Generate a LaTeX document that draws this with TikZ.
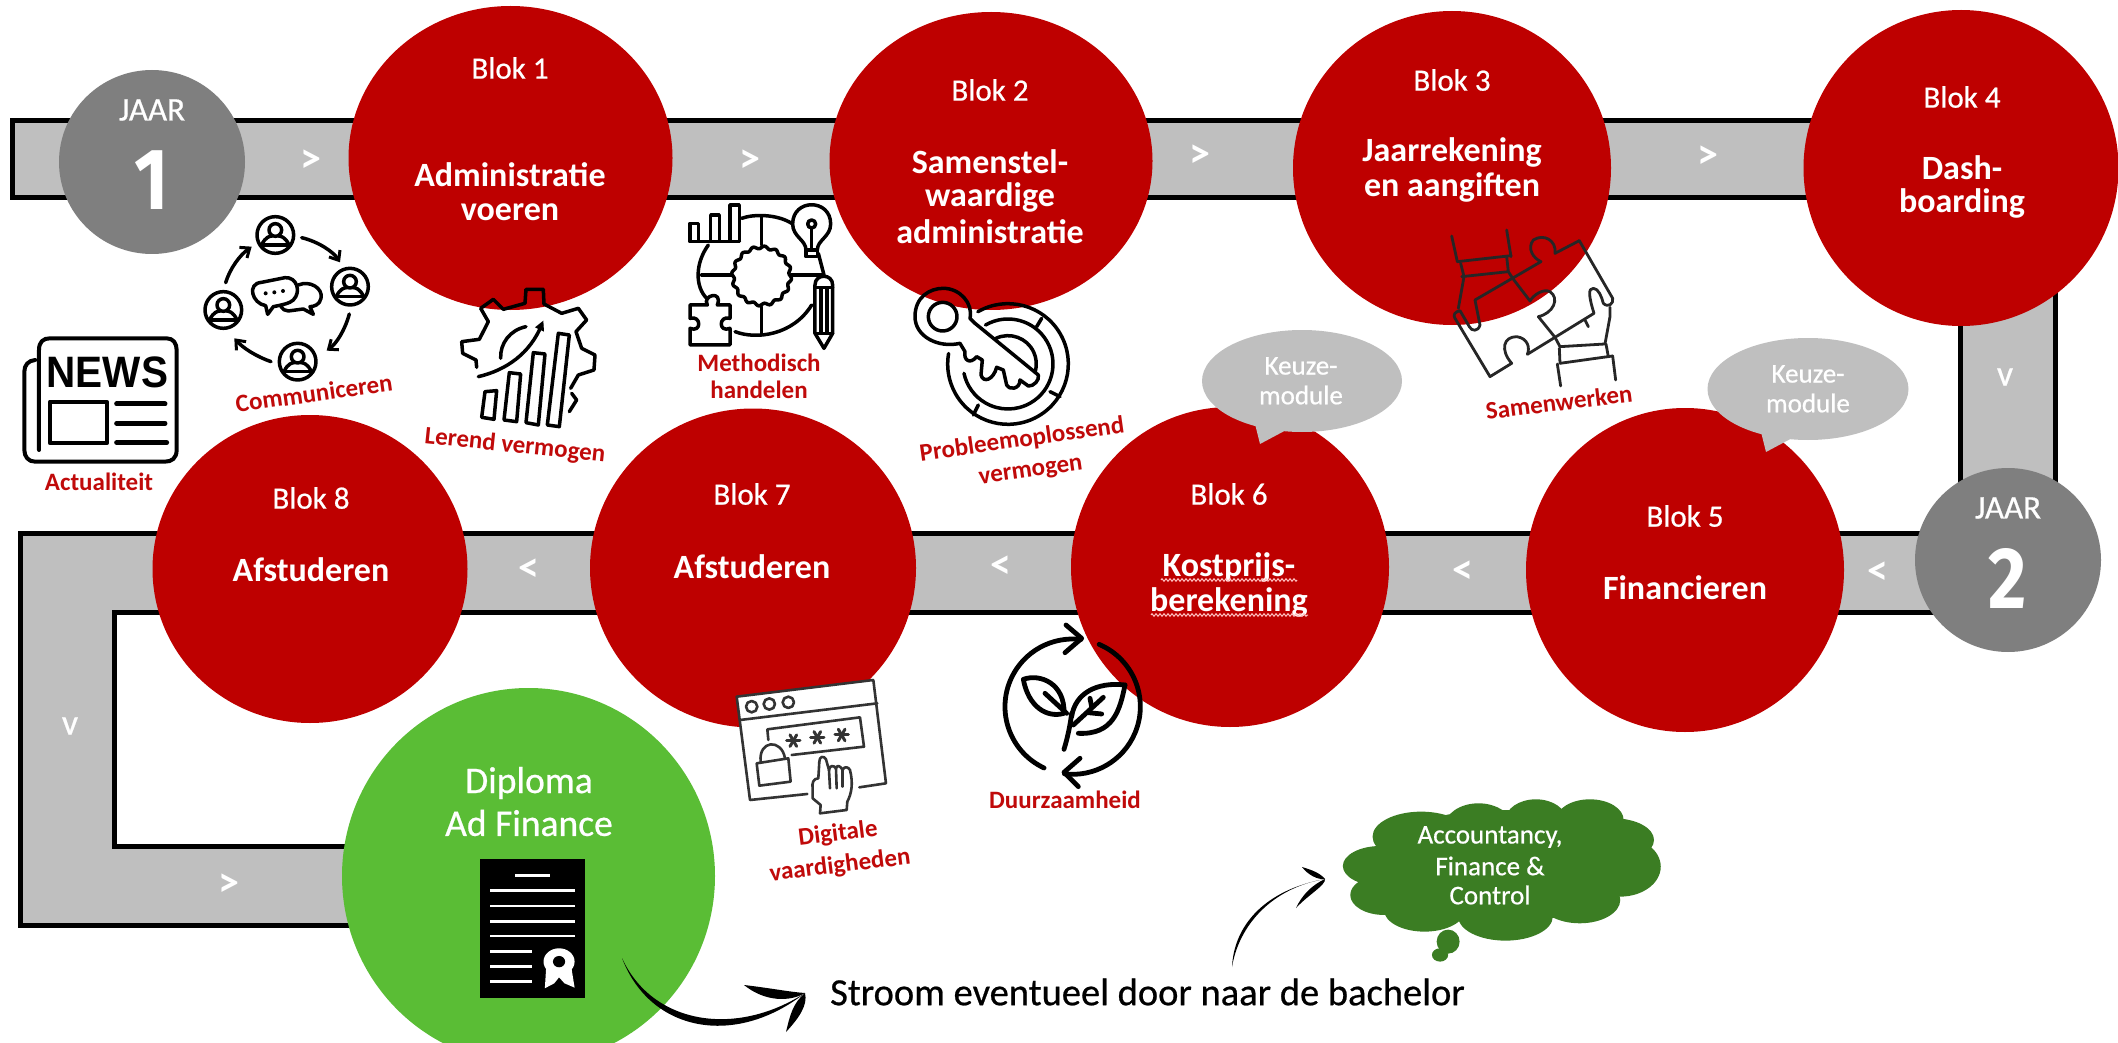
\documentclass[tikz,border=0pt]{standalone}
\usepackage{fontspec}
\setmainfont{Carlito}
\newfontfamily\medfont[FakeBold=0.6]{Carlito}
\newfontfamily\newsfont{Liberation Sans}
\newfontfamily\digitfont{Fira Sans}
\usetikzlibrary{shapes.geometric,arrows.meta,decorations.pathmorphing}
\definecolor{rood}{HTML}{BE0000}
\definecolor{labelrood}{HTML}{C00A0A}
\definecolor{band}{HTML}{BFBFBF}
\definecolor{jaar}{HTML}{7F7F7F}
\definecolor{groen}{HTML}{5ABD35}
\definecolor{donkergroen}{HTML}{3B7D23}
\tikzset{
  blokc/.style={ellipse,fill=rood,inner sep=0,minimum width=#1},
  jaarc/.style={ellipse,fill=jaar,inner sep=0,minimum width=186,minimum height=184},
  txt/.style={text=white,inner sep=0,anchor=center,align=center},
  blokt/.style={txt,font=\medfont\fontsize{31}{36}\selectfont},
  titel/.style={txt,font=\bfseries\fontsize{34}{36}\selectfont},
  pijl/.style={txt,font=\bfseries\fontsize{42}{42}\selectfont},
  rlabel/.style={text=labelrood,inner sep=0,anchor=center,align=center,font=\bfseries\fontsize{25}{26}\selectfont},
  keuze/.style={txt,text=white,font=\medfont\fontsize{27}{30}\selectfont},
  ic/.style={line width=#1,line join=round,line cap=round,draw=black},
  ic/.default=3.5,
  person/.pic={
    \draw[ic] (0,0) circle[radius=55];
    \draw[ic] (0,-15) circle[radius=19];
    \draw[ic] (-41,30) .. controls (-30,5) and (-15,3) .. (-10,3);
    \draw[ic] (41,30) .. controls (30,5) and (15,3) .. (10,3);
    \draw[ic] (-41,30) -- (41,30);
  },
  barb/.style={-{Straight Barb[length=8pt,width=13pt,line width=3pt]}},
}
\begin{document}
\begin{tikzpicture}[x=1pt,y=-1pt]
\useasboundingbox (0,0) rectangle (2118,1043);
\clip (0,0) rectangle (2118,1043);
% bands
\draw[line width=5,fill=band,line join=miter] (12,121) -- (2055,121) -- (2055,500) -- (1960,500) -- (1960,198) -- (12,198) -- cycle;
\draw[line width=5,fill=band,line join=miter] (20,533) -- (1960,533) -- (1960,612) -- (114,612) -- (114,846) -- (400,846) -- (400,925) -- (20,925) -- cycle;
% circles
\node[jaarc] (j1) at (152,162) {};
\node[jaarc] (j2) at (2008,560) {};
\node[blokc=324,minimum height=304] (c1) at (510.5,158) {};
\node[blokc=323,minimum height=298] (c2) at (991,161) {};
\node[blokc=318,minimum height=314] (c3) at (1452,168) {};
\node[blokc=315,minimum height=316] (c4) at (1961,168) {};
\node[blokc=318,minimum height=324] (c5) at (1685,570) {};
\node[blokc=318,minimum height=320] (c6) at (1230,567) {};
\node[blokc=326,minimum height=319] (c7) at (753,568) {};
\node[blokc=315,minimum height=308] (c8) at (310,569) {};
\node[ellipse,fill=groen,inner sep=0,minimum width=373,minimum height=376] (dip) at (528.5,876) {};
% band arrows
\node[pijl] (a1) at (311,161) {>};
\node[pijl] (a2) at (750,161) {>};
\node[pijl] (a3) at (1200,156) {>};
\node[pijl] (a4) at (1708,157) {>};
\node[txt,font=\medfont\fontsize{36}{36}\selectfont] (a5) at (2005,377) {v};
\node[pijl] (a6) at (1878,573) {<};
\node[pijl] (a7) at (1463,572) {<};
\node[pijl] (a8) at (1001,567) {<};
\node[pijl] (a9) at (529,570) {<};
\node[txt,font=\medfont\fontsize{36}{36}\selectfont] (a10) at (70,726) {v};
\node[pijl] (a11) at (229,885) {>};
% jaar text
\node[txt,font=\medfont\fontsize{33}{36}\selectfont] (j1t) at (152,110) {JAAR};
\node[txt,font=\digitfont\bfseries\fontsize{87}{87}\selectfont,xscale=.85] (j1n) at (152,180) {1};
\node[txt,font=\medfont\fontsize{33}{36}\selectfont] (j2t) at (2008,508) {JAAR};
\node[txt,font=\digitfont\bfseries\fontsize{87}{87}\selectfont,xscale=.85] (j2n) at (2008,578) {2};
% block text
\node[blokt] (b1) at (510,68) {Blok 1};
\node[titel] (t1a) at (510,175) {Administratie};
\node[titel] (t1b) at (510,212) {voeren};
\node[blokt] (b2) at (990,90) {Blok 2};
\node[titel] (t2a) at (990,162) {Samenstel-};
\node[titel] (t2b) at (990,197) {waardige};
\node[titel] (t2c) at (990,232) {administratie};
\node[blokt] (b3) at (1452,80) {Blok 3};
\node[titel] (t3a) at (1452,152) {Jaarrekening};
\node[titel] (t3b) at (1452,187) {en aangiften};
\node[blokt] (b4) at (1962,97) {Blok 4};
\node[titel] (t4a) at (1962,168) {Dash-};
\node[titel] (t4b) at (1962,203) {boarding};
\node[blokt] (b5) at (1685,516) {Blok 5};
\node[titel] (t5) at (1685,588) {Financieren};
\node[blokt] (b6) at (1229,494) {Blok 6};
\node[titel] (t6a) at (1229,567) {Kostprijs-};
\node[titel] (t6b) at (1229,602) {berekening};
\draw[draw=red!25!white,line width=1,decorate,decoration={zigzag,segment length=4,amplitude=1.3}] (1161,580) -- (1297,580);
\draw[draw=red!25!white,line width=1,decorate,decoration={zigzag,segment length=4,amplitude=1.3}] (1151,615) -- (1308,615);
\node[blokt] (b7) at (752,494) {Blok 7};
\node[titel] (t7) at (752,567) {Afstuderen};
\node[blokt] (b8) at (311,498) {Blok 8};
\node[titel] (t8) at (311,570) {Afstuderen};
\node[txt,font=\medfont\fontsize{37.5}{40}\selectfont] (d1) at (529,783) {Diploma};
\node[txt,font=\medfont\fontsize{37.5}{40}\selectfont] (d2) at (529,823) {Ad Finance};
% keuze bubbles
\node[ellipse,fill=band,inner sep=0,minimum width=200,minimum height=102] (k1) at (1302,381) {};
\fill[band] (1254,420) -- (1260,444) -- (1290,428) -- cycle;
\node[keuze] (k1a) at (1301,366) {Keuze-};
\node[keuze] (k1b) at (1301,395) {module};
\node[ellipse,fill=band,inner sep=0,minimum width=201,minimum height=102] (k2) at (1808,389) {};
\fill[band] (1760,428) -- (1766,452) -- (1796,436) -- cycle;
\node[keuze] (k2a) at (1808,374) {Keuze-};
\node[keuze] (k2b) at (1808,403) {module};
% diploma document
\node[fill=black,inner sep=0,minimum width=105,minimum height=139] (doc) at (532.5,928.5) {};
\begin{scope}[shift={(0,520)},x=.676pt,y=-.3333pt,line width=2.6]
  \draw[white] (762,1067) -- (813,1067);
  \foreach \yy in {1112,1158,1204,1248}{\draw[white] (725,\yy) -- (851,\yy);}
  \foreach \yy in {1294,1339,1384}{\draw[white] (725,\yy) -- (787,\yy);}
  \fill[white] (808,1340) -- (806,1405) -- (820,1390) -- (827,1372) -- (835,1390) -- (850,1403) -- (845,1340) -- cycle;
  \fill[white] (827,1325) ellipse[x radius=23,y radius=40];
  \fill[black] (827,1325) ellipse[x radius=9,y radius=17];
\end{scope}
% cloud
\begin{scope}[shift={(1060,520)},x=.675pt,y=-.3333pt]
  \fill[donkergroen] (650,1040) ellipse[x radius=190,y radius=170];
  \foreach \cx/\cy/\rx/\ry in {535/950/72/75,620/920/50/70,705/900/45/62,785/900/50/62,820/960/60/65,830/1040/60/90,770/1140/60/70,660/1190/70/72,540/1170/60/65,480/1125/50/60,475/1038/56/60}{
    \fill[donkergroen] (\cx,\cy) ellipse[x radius=\rx,y radius=\ry];
  }
  \fill[donkergroen] (575,1265) ellipse[x radius=17,y radius=36];
  \fill[donkergroen] (563,1305) ellipse[x radius=12,y radius=20];
\end{scope}
\node[keuze] (w1) at (1490,837) {Accountancy,};
\node[keuze] (w2) at (1490,866) {Finance \&};
\node[keuze] (w3) at (1490,895) {Control};
% bachelor text
\node[inner sep=0,anchor=west,font=\medfont\fontsize{38.5}{40}\selectfont] (stroom) at (830,992) {Stroom eventueel door naar de bachelor};
% curved arrows
\coordinate (s1) at (622,958);
\coordinate (t1) at (805,993);
\fill (s1) .. controls (650,1032) and (735,1048) .. (t1) .. controls (735,1038) and (652,1024) .. (s1);
\fill (744,985) .. controls (770,988) and (790,992) .. (t1) .. controls (790,1002) and (765,1002) .. (744,985);
\fill (786,1032) .. controls (790,1015) and (793,1003) .. (t1) .. controls (808,1005) and (799,1018) .. (786,1032);
\coordinate (s2) at (1232,967);
\coordinate (t2) at (1325,879);
\fill (s2) .. controls (1234,925) and (1265,890) .. (t2) .. controls (1272,888) and (1239,925) .. (s2);
\fill (1302,867) .. controls (1312,870) and (1320,873) .. (t2) .. controls (1318,880) and (1308,875) .. (1302,867);
\fill (1296,908) .. controls (1302,895) and (1312,885) .. (t2) .. controls (1326,885) and (1308,895) .. (1296,908);
% communicate icon
\begin{scope}[shift={(195,205)},x=.3333pt,y=-.3333pt]
  \pic at (241,90) {person};
  \pic at (465,245) {person};
  \pic at (308,470) {person};
  \pic at (85,315) {person};
  \draw[ic,barb] (320,98) .. controls (370,110) and (415,140) .. (435,172);
  \draw[ic,barb] (463,327) .. controls (450,375) and (425,415) .. (395,437);
  \draw[ic,barb] (228,470) .. controls (185,455) and (145,430) .. (118,400);
  \draw[ic,barb] (92,233) .. controls (105,190) and (135,150) .. (170,125);
  \draw[ic] (212,302) .. controls (170,295) and (155,235) .. (200,232) -- (270,218) .. controls (305,215) and (320,260) .. (295,285) .. controls (285,295) and (260,300) .. (235,305) -- (218,328) -- cycle;
  \draw[ic] (310,240) .. controls (345,225) and (385,250) .. (378,280) .. controls (375,300) and (355,305) .. (345,305) -- (355,328) -- (325,312) -- (280,318) .. controls (270,318) and (262,312) .. (258,305);
  \foreach \dx/\dy in {212/265,238/262,264/258}{\fill (\dx,\dy) circle[radius=6];}
\end{scope}
% gear icon
\begin{scope}[shift={(450,280)},x=.3333pt,y=-.3333pt]
  \draw[ic] (80,262) -- (78,240) -- (38,220) -- (35,185) -- (88,178) -- (115,125) -- (92,85) -- (130,58) -- (160,88) -- (225,70) -- (228,28) -- (280,28) -- (282,72) -- (335,100) -- (385,85) -- (410,120) -- (378,155) -- (395,205) -- (435,225) -- (432,270) -- (385,285) -- (362,325);
  \draw[ic] (365,340) -- (380,360) -- (358,395);
  \draw[ic] (105,335) -- (140,332) -- (132,418) -- (95,412) -- cycle;
  \draw[ic] (178,278) -- (212,282) -- (200,425) -- (162,420) -- cycle;
  \draw[ic] (250,218) -- (285,222) -- (265,435) -- (228,428) -- cycle;
  \draw[ic] (325,160) -- (358,165) -- (328,440) -- (292,435) -- cycle;
  \draw[ic] (85,290) .. controls (170,270) and (240,220) .. (275,135);
  \fill (255,142) -- (280,122) -- (282,155) -- cycle;
  \draw[ic] (152,235) .. controls (150,190) and (180,150) .. (228,140);
\end{scope}
% method icon
\begin{scope}[shift={(680,200)},x=.3333pt,y=-.3333pt]
  \draw[ic] (185,55) .. controls (220,42) and (290,42) .. (335,70);
  \draw[ic] (85,135) .. controls (45,190) and (45,260) .. (80,295);
  \draw[ic] (165,395) .. controls (230,420) and (340,405) .. (395,315);
  \draw[ic] (415,160) -- (432,225);
  \draw[ic] (245,50) -- (245,135);
  \draw[ic] (245,320) -- (245,405);
  \draw[ic] (65,225) -- (155,225);
  \draw[ic] (335,225) -- (430,225);
  \draw[ic] plot[domain=0:360,samples=145,smooth cycle] ({245+(86+4*sin(16*\x))*cos(\x)},{228+(86+4*sin(16*\x))*sin(\x)});
  \draw[ic] (30,70) rectangle (55,125);
  \draw[ic] (92,45) rectangle (118,125);
  \draw[ic] (150,15) rectangle (178,125);
  \draw[ic] (30,125) -- (178,125);
  \draw[ic] (378,150) .. controls (378,120) and (338,110) .. (338,72) .. controls (338,-5) and (452,-5) .. (452,72) .. controls (452,110) and (412,120) .. (412,150) -- cycle;
  \draw[ic] (378,150) rectangle (412,170);
  \draw[ic] (395,72) circle[radius=12];
  \draw[ic] (395,85) -- (395,150);
  \draw[ic,fill=white] (405,400) -- (405,255) .. controls (405,220) and (458,220) .. (458,255) -- (458,400) -- (432,445) -- cycle;
  \draw[ic] (405,262) -- (458,262);
  \draw[ic] (423,265) -- (423,400);
  \draw[ic] (441,265) -- (441,400);
  \draw[ic] (405,400) -- (458,400);
  \draw[ic] (30,315) -- (82,315) .. controls (65,285) and (130,270) .. (112,315) -- (150,315) -- (150,355) .. controls (115,345) and (115,400) .. (150,385) -- (150,435) -- (30,435) -- (30,385) .. controls (65,400) and (65,345) .. (30,355) -- cycle;
\end{scope}
% key icon
\begin{scope}[shift={(905,280)},x=.3333pt,y=-.3333pt]
  \draw[ic] (113,110) circle[radius=43];
  \draw[ic] (210,130) -- (400,285) .. controls (405,300) and (385,320) .. (370,318) -- (345,300) .. controls (345,330) and (310,330) .. (305,315) -- (295,270) -- (275,262) .. controls (265,300) and (235,310) .. (228,285) -- (232,240) -- (215,230) .. controls (195,255) and (175,240) .. (180,215) -- (165,190) .. controls (100,205) and (30,170) .. (30,110) .. controls (30,50) and (75,25) .. (115,25) .. controls (165,25) and (205,70) .. (195,115) -- cycle;
  \draw[ic] ([shift={(240:181)}]309,252) arc[start angle=240,end angle=550,radius=181];
  \draw[ic] ([shift={(240:135)}]309,252) arc[start angle=240,end angle=528,radius=135];
  \draw[ic] ([shift={(245:85)}]309,252) arc[start angle=245,end angle=375,radius=85];
  \draw[ic] (410,115) -- (395,140);
  \draw[ic] (435,335) -- (465,350);
  \draw[ic] (220,375) -- (205,405);
\end{scope}
% puzzle icon
\begin{scope}[shift={(1440,220)},x=.3333pt,y=-.3333pt]
  \tikzset{pz/.style={ic=2.8,draw=black!85}}
  \draw[pz] (35,48) -- (52,125);
  \draw[pz] (200,30) -- (213,110);
  \draw[pz] (52,125) -- (213,107);
  \draw[pz] (65,170) -- (205,155);
  \draw[pz] (62,130) -- (72,170) -- (55,265);
  \draw[pz] (200,110) -- (205,155) -- (218,175);
  \draw[pz] (418,62) -- (345,100) .. controls (350,60) and (310,40) .. (280,60) .. controls (260,85) and (280,115) .. (303,125) -- (105,240) -- (120,315) .. controls (115,335) and (95,335) .. (88,320) -- (60,272) .. controls (45,275) and (38,285) .. (45,295) -- (150,470) -- (215,430) .. controls (180,390) and (190,350) .. (230,350) .. controls (265,355) and (270,385) .. (262,403) -- (345,352) -- (295,290) .. controls (340,280) and (360,235) .. (330,215) .. controls (310,205) and (280,225) .. (270,243) -- (218,175);
  \draw[pz] (418,62) -- (518,235) .. controls (522,250) and (505,265) .. (490,250) .. controls (485,230) and (475,205) .. (460,205) .. controls (445,205) and (445,225) .. (462,280) -- (345,352);
  \draw[pz] (435,300) -- (445,320);
  \draw[pz] (345,352) -- (360,380) -- (495,372) -- (510,290) -- (510,262);
  \draw[pz] (360,430) -- (518,408);
  \draw[pz] (358,385) -- (360,430);
  \draw[pz] (498,372) -- (505,410);
  \draw[pz] (352,432) -- (362,498);
  \draw[pz] (518,408) -- (527,480);
\end{scope}
% news icon
\begin{scope}[shift={(15,330)},x=.3333pt,y=-.3333pt]
  \draw[ic=4] (72,360) -- (72,60) .. controls (72,35) and (85,25) .. (105,25) -- (455,25) .. controls (475,25) and (485,40) .. (485,60) -- (485,360) .. controls (485,385) and (470,395) .. (450,395) -- (60,395) .. controls (40,395) and (28,380) .. (28,360) -- (28,125) .. controls (28,105) and (40,92) .. (60,90);
  \node[inner sep=0,anchor=center,text=black,font=\newsfont\bfseries\fontsize{44}{44}\selectfont,xscale=.92] (newsw) at (277,127) {NEWS};
  \draw[ic=4] (105,215) rectangle (275,340);
  \draw[ic=5] (305,222) -- (450,222);
  \draw[ic=5] (305,280) -- (450,280);
  \draw[ic=5] (305,338) -- (455,338);
\end{scope}
% digital icon
\begin{scope}[shift={(730,670)},x=.3333pt,y=-.3333pt]
  \tikzset{dg/.style={ic=2.6,draw=black!80}}
  \fill[white] (20,80) -- (430,30) -- (468,340) -- (60,390) -- cycle;
  \draw[dg] (232,372) -- (60,390) -- (20,80) -- (430,30) -- (468,340) -- (388,352);
  \draw[dg] (30,150) -- (442,100);
  \foreach \cx/\cy in {65/110,118/102,175/97}{\draw[dg] (\cx,\cy) circle[radius=17];}
  \draw[dg] (115,210) -- (112,178) -- (390,142) -- (402,230) -- (185,255);
  \foreach \cx/\cy in {190/212,262/202,335/195}{
    \foreach \ang in {0,60,120}{\draw[dg,line width=3] ([shift={(\ang:20)}]\cx,\cy) -- ([shift={(\ang+180:20)}]\cx,\cy);}
  }
  \draw[dg] (80,280) -- (175,265) -- (182,335) -- (88,347) -- cycle;
  \draw[dg] (92,275) .. controls (85,210) and (155,205) .. (165,265);
  \draw[dg,fill=white] (270,430) -- (350,420) -- (352,395) .. controls (365,370) and (370,340) .. (360,300) .. controls (355,290) and (342,288) .. (338,300) .. controls (330,285) and (320,285) .. (318,295) .. controls (310,285) and (300,285) .. (297,300) -- (288,268) .. controls (280,255) and (268,260) .. (268,275) -- (265,325) .. controls (250,325) and (245,340) .. (248,355) -- (248,385) -- (272,405) -- cycle;
  \draw[dg] (338,300) -- (338,350);
  \draw[dg] (318,295) -- (320,355);
  \draw[dg] (297,300) -- (300,355);
\end{scope}
% leaf icon
\begin{scope}[shift={(990,610)},x=.3333pt,y=-.3333pt]
  \tikzset{lf/.style={ic=4.8}}
  \draw[lf] ([shift={(115:203)}]248,290) arc[start angle=115,end angle=277,radius=203];
  \draw[lf] ([shift={(293:203)}]248,290) arc[start angle=293,end angle=457,radius=203];
  \draw[lf] (228,45) -- (275,85) -- (225,128);
  \draw[lf] (270,445) -- (222,487) -- (265,530);
  \draw[lf] (100,208) .. controls (150,190) and (225,220) .. (222,310) .. controls (170,325) and (115,290) .. (100,208) -- cycle;
  \draw[lf] (165,250) -- (230,310);
  \draw[lf] (405,225) .. controls (320,215) and (255,250) .. (245,320);
  \draw[lf] (405,225) .. controls (390,300) and (370,375) .. (265,370);
  \draw[lf] (340,262) -- (250,345);
  \draw[lf] (300,265) -- (305,290);
  \draw[lf] (335,312) -- (295,308);
  \draw[lf] (245,310) .. controls (240,350) and (232,385) .. (222,418);
\end{scope}
% red labels
\node[rlabel,rotate=8] (l1) at (314,393) {Communiceren};
\node[rlabel,rotate=-6] (l2) at (515,446) {Lerend vermogen};
\node[rlabel] (l3) at (759,363) {Methodisch};
\node[rlabel] (l4) at (759,390) {handelen};
\node[rlabel,rotate=8] (l5) at (1022,440) {Probleemoplossend};
\node[rlabel,rotate=8] (l6) at (1031,473) {vermogen};
\node[rlabel,rotate=7] (l7) at (1559,402) {Samenwerken};
\node[rlabel] (l8) at (99,482) {Actualiteit};
\node[rlabel,rotate=7] (l9) at (838,834) {Digitale};
\node[rlabel,rotate=7] (l10) at (840,866) {vaardigheden};
\node[rlabel] (l11) at (1065,800) {Duurzaamheid};
\end{tikzpicture}
\end{document}
